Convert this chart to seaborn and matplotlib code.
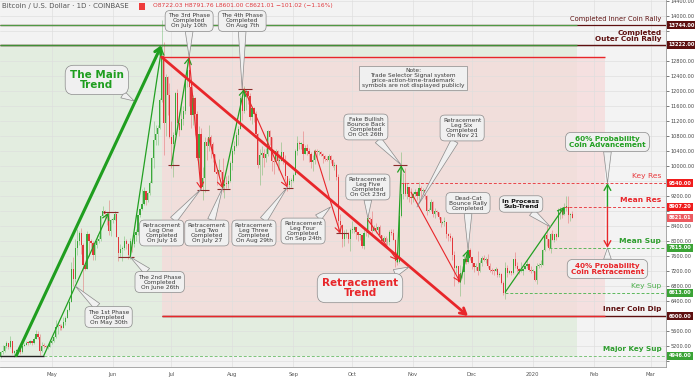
import matplotlib
matplotlib.use("Agg")
import numpy as np
import pandas as pd
import matplotlib.pyplot as plt
import matplotlib.dates as mdates
from matplotlib.patches import Rectangle
import seaborn as sns

# ---- daily candles, Coinbase BTC-USD, 2019-04-05 .. 2020-01-21 ----
start_date = "2019-04-05"
first_open = 4900.0

close_apr = [5040, 5060, 5200, 5280, 5170, 5330, 5020, 5070, 5075, 5160, 5030, 5210, 5240,
             5290, 5280, 5330, 5290, 5390, 5530, 5440, 5070, 5210, 5200, 5180, 5180, 5280]
high_apr = [5060, 5230, 5240, 5340, 5290, 5470, 5340, 5100, 5120, 5180, 5200, 5230, 5280,
            5330, 5340, 5350, 5340, 5430, 5630, 5600, 5520, 5300, 5270, 5240, 5210, 5330]
low_apr = [4880, 4990, 5050, 5150, 5120, 5150, 4980, 4920, 5040, 5040, 4990, 5020, 5190,
           5230, 5230, 5260, 5220, 5260, 5380, 5380, 4960, 5050, 5160, 5140, 5110, 5170]

close_may = [5340, 5430, 5720, 5770, 5730, 5690, 5830, 5960, 6160, 6380, 7260, 6990, 7810, 7990,
             8200, 7890, 7350, 7260, 8190, 7990, 7950, 7630, 7880, 7990, 8050, 8670, 8810, 8720,
             8660, 8270, 8550]
high_may = [5380, 5470, 5890, 5820, 5790, 5800, 5980, 5990, 6180, 6430, 7450, 7560, 8060, 8330,
            8270, 8350, 7940, 7480, 8260, 8200, 8040, 8000, 7980, 8170, 8150, 8700, 8930, 8820,
            8720, 9080, 8580]
low_may = [5260, 5320, 5420, 5520, 5640, 5620, 5680, 5760, 5950, 6140, 6370, 6800, 6900, 7620,
           7880, 7650, 6600, 7230, 7250, 7590, 7800, 7500, 7500, 7810, 7950, 8000, 8640, 8580,
           8430, 8150, 8120]

close_jun = [8560, 8730, 8110, 7680, 7790, 7800, 8000, 7930, 7630, 8000, 7920, 8170, 8230, 8690,
             8850, 8990, 9320, 9080, 9270, 9540, 10200, 10700, 10850, 11010, 11760, 12930, 11150,
             12370, 11880, 10770]
high_jun = [8640, 8810, 8740, 8110, 7920, 7870, 8120, 8050, 7940, 8090, 8040, 8230, 8320, 8690,
            8880, 9380, 9440, 9340, 9310, 9600, 10240, 11200, 11080, 11100, 11800, 13880, 13300,
            12450, 12390, 12200]
low_jun = [8470, 8550, 8100, 7470, 7580, 7460, 7760, 7790, 7520, 7530, 7700, 7850, 8000, 8160,
           8640, 8820, 8970, 8960, 9040, 9230, 9540, 9950, 10550, 10570, 10980, 11710, 10300,
           10810, 11360, 10750]

close_jul = [10590, 10820, 11950, 11150, 10970, 11250, 11470, 12300, 12560, 12100, 11350, 11800,
             11380, 10200, 10850, 9430, 9680, 10630, 10530, 10760, 10590, 10320, 9850, 9780, 9890,
             9840, 9470, 9530, 9510, 9590, 10090]
high_jul = [11200, 10900, 11980, 12050, 11440, 11700, 11600, 12380, 12800, 13200, 12100, 11900,
            11830, 11450, 11070, 11020, 9980, 10760, 10750, 11100, 10830, 10650, 10330, 9920,
            10180, 9900, 10200, 9620, 9720, 9750, 10120]
low_jul = [9950, 9710, 10820, 11030, 10800, 10990, 11100, 11370, 12110, 11600, 11000, 11080,
           10830, 10150, 9900, 9370, 9100, 9300, 10150, 10400, 10200, 10100, 9830, 9500, 9740,
           9660, 9300, 9150, 9400, 9410, 9560]

close_aug = [10400, 10530, 10820, 10980, 11800, 11470, 11980, 11990, 11860, 11300, 11550, 11390,
             10860, 10020, 10300, 10350, 10220, 10320, 10920, 10760, 10130, 10110, 10410, 10140,
             10140, 10360, 10170, 9720, 9490, 9590, 9600]
high_aug = [10480, 10660, 10910, 11070, 11900, 12320, 12130, 12060, 12000, 11930, 11600, 11560,
            11450, 10870, 10450, 10530, 10460, 10480, 10960, 10950, 10780, 10240, 10450, 10420,
            10330, 10650, 10380, 10280, 9730, 9690, 9680]
low_aug = [9880, 10330, 10500, 10560, 10980, 11220, 11410, 11500, 11660, 11220, 11120, 11170,
           10800, 9950, 9500, 9750, 9980, 10100, 10260, 10560, 9860, 9790, 10060, 9880, 9920,
           10130, 10050, 9620, 9330, 9380, 9450]

close_sep = [9770, 10390, 10620, 10580, 10580, 10320, 10480, 10400, 10320, 10100, 10160, 10410,
             10360, 10360, 10310, 10260, 10190, 10160, 10270, 10170, 9990, 10030, 9700, 8530,
             8430, 8060, 8200, 8220, 8050, 8300]
high_sep = [9820, 10440, 10790, 10670, 10630, 10920, 10560, 10590, 10490, 10380, 10290, 10450,
            10440, 10420, 10390, 10350, 10280, 10270, 10330, 10280, 10190, 10100, 10050, 9790,
            8730, 8450, 8280, 8320, 8230, 8340]
low_sep = [9560, 9760, 10290, 10440, 10460, 10170, 10310, 10290, 10110, 9950, 9870, 10040,
           10160, 10280, 10260, 10080, 10140, 10140, 9620, 10080, 9960, 9900, 9630, 8220, 8270,
           7850, 7870, 8080, 7950, 7720]

close_oct = [8300, 8370, 8230, 8150, 8150, 7870, 8220, 8200, 8600, 8590, 8270, 8350, 8300, 8370,
             8160, 8000, 8090, 7960, 7960, 8230, 8220, 8030, 7470, 7440, 8660, 9250, 9550, 9250,
             9430, 9170, 9150]
high_oct = [8520, 8390, 8380, 8240, 8180, 8170, 8320, 8330, 8670, 8650, 8800, 8420, 8480, 8400,
            8420, 8170, 8120, 8120, 8090, 8300, 8330, 8320, 8050, 7500, 8800, 10370, 9800, 9950,
            9540, 9440, 9400]
low_oct = [8200, 8200, 8060, 8000, 8020, 7800, 7790, 8130, 8100, 8480, 8200, 8270, 8200, 8250,
           8100, 7940, 7960, 7840, 7880, 7880, 8160, 8030, 7300, 7360, 7400, 8650, 9130, 9200,
           9110, 9050, 8980]

close_nov = [9250, 9310, 9200, 9400, 9320, 9350, 9210, 8800, 8820, 9050, 8720, 8800, 8760, 8640,
             8470, 8500, 8500, 8180, 8120, 8080, 7620, 7280, 7330, 6900, 7150, 7160, 7520, 7430,
             7750, 7560]
high_nov = [9300, 9380, 9370, 9560, 9470, 9420, 9370, 9220, 8870, 9130, 9070, 8890, 8820, 8780,
            8650, 8530, 8640, 8500, 8200, 8210, 8120, 7720, 7360, 7340, 7370, 7320, 7650, 7620,
            7870, 7820]
low_nov = [9040, 9210, 9090, 9100, 9180, 9260, 9130, 8700, 8770, 8800, 8630, 8620, 8700, 8580,
           8380, 8450, 8400, 8080, 8000, 8000, 7500, 6800, 7150, 6870, 6530, 7020, 6860, 7380,
           7410, 7480]

close_dec = [7410, 7300, 7300, 7200, 7400, 7540, 7500, 7520, 7340, 7230, 7210, 7200, 7260, 7080,
             7110, 6880, 6620, 7290, 7150, 7190, 7140, 7520, 7320, 7250, 7200, 7200, 7250, 7320,
             7390, 7220, 7190]
high_dec = [7560, 7420, 7400, 7740, 7490, 7600, 7630, 7560, 7650, 7400, 7270, 7260, 7310, 7270,
            7170, 7140, 6940, 7440, 7370, 7220, 7190, 7530, 7700, 7430, 7270, 7440, 7270, 7360,
            7520, 7410, 7320]
low_dec = [7240, 7160, 7230, 7080, 7170, 7330, 7470, 7420, 7280, 7170, 7130, 7080, 7190, 7030,
           7030, 6860, 6550, 6440, 7040, 7110, 7080, 7130, 7270, 7170, 7130, 7160, 7080, 7240,
           7290, 7200, 7150]

close_jan = [7200, 6960, 7340, 7350, 7350, 7760, 8160, 8040, 7820, 8190, 8020, 8180, 8110, 8810,
             8820, 8720, 8900, 8900, 8700, 8722.03, 8621.01]
high_jan = [7250, 7210, 7400, 7400, 7500, 7790, 8210, 8460, 8050, 8200, 8290, 8190, 8200, 8880,
            8900, 8850, 9010, 9200, 9190, 8750, 8791.76]
low_jan = [7160, 6930, 6860, 7270, 7310, 7350, 7730, 7870, 7760, 7670, 8020, 7970, 8030, 8100,
           8580, 8620, 8680, 8800, 8480, 8520, 8601.00]

# ---- key levels ----
inner_rally = 13744.00
outer_rally = 13222.00
retrace_top = 12900.00
key_res = 9540.00
mean_res = 8907.20
mean_sup = 7815.00
key_sup = 6613.00
inner_dip = 6000.00
major_key_sup = 4946.00

# ---- trend legs (date, price) ----
main_trend = [("2019-04-13", major_key_sup), ("2019-06-26", outer_rally)]
phase_one = [("2019-04-27", major_key_sup), ("2019-05-30", 8750)]
phase_two = [("2019-06-10", 7570), ("2019-06-26", 13150)]
phase_three = [("2019-07-01", 10020), ("2019-07-10", 12900)]
leg_one = [("2019-07-10", 12900), ("2019-07-16", 9380)]
leg_two = [("2019-07-20", 10740), ("2019-07-27", 9410)]
phase_four = [("2019-07-27", 9410), ("2019-08-07", 12050)]
leg_three = [("2019-08-07", 12050), ("2019-08-29", 9430)]
leg_four = [("2019-09-12", 10400), ("2019-09-25", 8200)]
leg_five = [("2019-10-09", 8560), ("2019-10-24", 7480)]
fake_bounce = [("2019-10-24", 7440), ("2019-10-26", 10020)]
leg_six = [("2019-10-31", 9300), ("2019-11-25", 6900)]
dead_cat = [("2019-11-25", 6900), ("2019-11-29", 7760)]
sub_trend = [("2019-12-18", 6640), ("2020-01-17", mean_res)]
retrace_trend = [("2019-06-26", retrace_top), ("2019-11-29", inner_dip)]
forecast_date = "2020-02-08"

month_ticks = ["2019-05-01", "2019-06-01", "2019-07-01", "2019-08-01", "2019-09-01",
               "2019-10-01", "2019-11-01", "2019-12-01", "2020-01-01", "2020-02-01", "2020-03-01"]
month_labels = ["May", "Jun", "Jul", "Aug", "Sep", "Oct", "Nov", "Dec", "2020", "Feb", "Mar"]
price_ticks = list(range(4800, 14401, 400))

GREEN = "#2f9e2f"
RED = "#e8262a"
MAROON = "#5e1010"
BOX_FC = "#f0f0f0"
BOX_EC = "#8a8a8a"


def d(s):
    return mdates.date2num(pd.Timestamp(s))


def build_frame():
    closes = close_apr + close_may + close_jun + close_jul + close_aug + close_sep + close_oct + close_nov + close_dec + close_jan
    highs = high_apr + high_may + high_jun + high_jul + high_aug + high_sep + high_oct + high_nov + high_dec + high_jan
    lows = low_apr + low_may + low_jun + low_jul + low_aug + low_sep + low_oct + low_nov + low_dec + low_jan
    df = pd.DataFrame({"date": pd.date_range(start_date, periods=len(closes), freq="D"),
                       "close": closes, "high": highs, "low": lows})
    df["open"] = [first_open] + closes[:-1]
    df["high"] = df[["high", "open", "close"]].max(axis=1)
    df["low"] = df[["low", "open", "close"]].min(axis=1)
    return df


def draw_candles(ax, df):
    x = mdates.date2num(df["date"])
    up = df["close"] >= df["open"]
    colors = np.where(up, "#3aa83a", "#e2363b")
    ax.vlines(x, df["low"], df["high"], colors=colors, lw=0.6, alpha=0.4, zorder=2)
    bottom = np.minimum(df["open"], df["close"])
    height = np.maximum((df["close"] - df["open"]).abs(), 25)
    ax.bar(x, height, bottom=bottom, width=0.62, color=colors, lw=0, zorder=3)


def arrow(ax, leg, color, lw=0.9, head=True):
    (d0, p0), (d1, p1) = leg
    style = "->,head_length=0.35,head_width=0.2" if head else "-"
    ax.annotate("", xy=(d(d1), p1), xytext=(d(d0), p0),
                arrowprops=dict(arrowstyle=style, color=color, lw=lw, shrinkA=0, shrinkB=0),
                zorder=5)


def callout(ax, text, at, point, color="#3a3a3a", weight="normal", size=4.2, pad=0.5):
    ax.annotate(text, xy=(d(point[0]), point[1]), xytext=(d(at[0]), at[1]),
                ha="center", va="center", fontsize=size, color=color, fontweight=weight,
                linespacing=1.0, zorder=8,
                bbox=dict(boxstyle=f"round,pad={pad},rounding_size=0.8", fc=BOX_FC, ec=BOX_EC, lw=0.5),
                arrowprops=dict(arrowstyle="wedge,tail_width=0.55,shrink_factor=0.5", mutation_scale=10,
                                fc=BOX_FC, ec=BOX_EC, lw=0.5, shrinkA=0, shrinkB=0))


def hline(ax, price, d0, d1, color, lw=1.0, ls="-"):
    ax.plot([d0, d1], [price, price], color=color, lw=lw, ls=ls, zorder=4, solid_capstyle="butt")


def main():
    sns.set_theme(style="whitegrid")
    plt.rcParams["font.family"] = ["DejaVu Sans"]
    df = build_frame()
    last = df.iloc[-1]

    fig = plt.figure(figsize=(6.95, 3.8), dpi=100, facecolor="white")
    ax = fig.add_axes([0, 13 / 380, 666 / 695, 367 / 380])
    ax.set_facecolor("#f3f3f3")

    x0 = d(start_date) - 0.3
    x1 = x0 + 666 / 1.964
    ax.set_xlim(x0, x1)
    ax.set_ylim(4641, 14421)

    green_end = d("2020-01-23") + 0.6
    red_start, red_end = d("2019-06-26"), d("2020-02-06") + 0.5
    ax.add_patch(Rectangle((x0, major_key_sup), green_end - x0, outer_rally - major_key_sup,
                           fc="#e3ede0", ec="none", zorder=0.2))
    ax.add_patch(Rectangle((red_start, inner_dip), red_end - red_start, retrace_top - inner_dip,
                           fc="#f6dada", alpha=0.75, ec="none", zorder=0.3))

    # price tags on the axis hide the tick labels they sit on
    tags = [(inner_rally, MAROON), (outer_rally, MAROON), (key_res, "#f01c1c"),
            (mean_res, "#f01c1c"), (last["close"], "#ec5a60"), (mean_sup, "#3aa335"),
            (key_sup, "#3aa335"), (inner_dip, MAROON), (major_key_sup, "#3aa335")]
    tag_prices = [p for p, _ in tags]
    tick_text = ["" if min(abs(p - t) for t in tag_prices) < 170 else f"{p:.2f}" for p in price_ticks]

    ax.set_yticks(price_ticks)
    ax.set_yticklabels(tick_text)
    ax.set_xticks([d(m) for m in month_ticks])
    ax.set_xticklabels(month_labels)
    ax.yaxis.tick_right()
    ax.tick_params(axis="y", labelsize=3.6, colors="#444444", length=2, pad=1.5, width=0.5)
    ax.tick_params(axis="x", labelsize=3.8, colors="#555555", length=2, pad=1.5, width=0.5)
    ax.grid(True, color="#dedede", lw=0.45)
    ax.set_axisbelow(True)
    for side in ["top", "left"]:
        ax.spines[side].set_visible(False)
    for side in ["right", "bottom"]:
        ax.spines[side].set_color("#9a9a9a")
        ax.spines[side].set_linewidth(0.6)

    # horizontal levels
    hline(ax, inner_rally, x0, x1, MAROON, 0.9)
    hline(ax, inner_rally, x0, green_end, "#4f9a45", 0.9)
    hline(ax, outer_rally, x0, x1, MAROON, 1.0)
    hline(ax, outer_rally, x0, green_end, "#3f8f35", 1.0)
    hline(ax, retrace_top, red_start, red_end, RED, 1.0)
    hline(ax, inner_dip, red_start, x1, MAROON, 1.0)
    hline(ax, inner_dip, red_start, red_end, RED, 1.0)
    hline(ax, key_res, d("2019-10-26"), x1, "#e8454a", 0.7, (0, (3, 2)))
    hline(ax, mean_res, d("2020-01-17"), x1, "#e8454a", 0.7, (0, (3, 2)))
    hline(ax, mean_sup, d("2020-01-09"), x1, "#5cb85c", 0.7, (0, (3, 2)))
    hline(ax, key_sup, d("2019-12-18"), x1, "#5cb85c", 0.7, (0, (3, 2)))
    hline(ax, major_key_sup, d("2019-04-27"), x1, "#7cc37a", 0.7, (0, (3, 2)))
    hline(ax, major_key_sup, x0, d("2019-04-27"), "#222222", 1.0)

    # small horizontal marks at swing points
    marks = [(8760, "2019-05-27", "2019-06-04"), (7570, "2019-06-04", "2019-06-12"),
             (10020, "2019-06-29", "2019-07-05"), (9350, "2019-07-14", "2019-07-20"),
             (9380, "2019-07-24", "2019-07-31"), (12050, "2019-08-04", "2019-08-11"),
             (9400, "2019-08-27", "2019-09-01"), (8210, "2019-09-23", "2019-09-29"),
             (10020, "2019-10-22", "2019-10-29")]
    for price, a, b in marks:
        hline(ax, price, d(a), d(b), "#8c2a2a", 0.8)

    draw_candles(ax, df)

    # trend legs
    arrow(ax, main_trend, "#1f9e1f", 2.2)
    for leg in [phase_one, phase_two, phase_three, phase_four, fake_bounce, dead_cat, sub_trend]:
        arrow(ax, leg, "#22a022", 0.9)
    for leg in [leg_one, leg_two, leg_three, leg_four, leg_five, leg_six]:
        arrow(ax, leg, RED, 0.8)
    arrow(ax, retrace_trend, RED, 2.0)
    arrow(ax, [(forecast_date, mean_res), (forecast_date, key_res)], "#22a022", 1.0)
    arrow(ax, [(forecast_date, mean_res), (forecast_date, mean_sup)], RED, 1.0)

    # callouts
    callout(ax, "The Main\nTrend", ("2019-05-24", 12290), ("2019-06-12", 11730), color="#1f9e1f",
            weight="bold", size=7.5, pad=0.45)
    callout(ax, "The 3rd Phase\nCompleted\nOn July 10th", ("2019-07-10", 13862), ("2019-07-10", 12900))
    callout(ax, "The 4th Phase\nCompleted\nOn Aug 7th", ("2019-08-06", 13862), ("2019-08-06", 12049))
    callout(ax, "Fake Bullish\nBounce Back\nCompleted\nOn Oct 26th", ("2019-10-08", 11037), ("2019-10-26", 10024))
    callout(ax, "Retracement\nLeg Six\nCompleted\nOn Nov 21", ("2019-11-26", 11010), ("2019-11-03", 8905))
    callout(ax, "Retracement\nLeg Five\nCompleted\nOn Oct 23rd", ("2019-10-09", 9438), ("2019-10-09", 8612))
    callout(ax, "Retracement\nLeg Four\nCompleted\nOn Sep 24th", ("2019-09-06", 8265), ("2019-09-20", 8905))
    callout(ax, "Dead-Cat\nBounce Rally\nCompleted", ("2019-11-29", 9011), ("2019-11-29", 7759))
    callout(ax, "In Process\nSub-Trend", ("2019-12-26", 8985), ("2020-01-10", 8372), color="#111111",
            weight="bold", size=4.6)
    callout(ax, "60% Probability\nCoin Advancement", (forecast_date, 10637), (forecast_date, key_res),
            color="#22a022", weight="bold", size=5.2)
    callout(ax, "40% Probability\nCoin Retracement", (forecast_date, 7252), (forecast_date, mean_sup),
            color=RED, weight="bold", size=5.2)
    callout(ax, "Retracement\nTrend", ("2019-10-05", 6746), ("2019-10-30", 7306), color=RED,
            weight="bold", size=7.5, pad=0.45)
    callout(ax, "Retracement\nLeg One\nCompleted\nOn July 16", ("2019-06-26", 8212), ("2019-07-16", 9380))
    callout(ax, "Retracement\nLeg Two\nCompleted\nOn July 27", ("2019-07-19", 8212), ("2019-07-27", 9410))
    callout(ax, "Retracement\nLeg Three\nCompleted\nOn Aug 29th", ("2019-08-12", 8212), ("2019-08-29", 9430))
    callout(ax, "The 2nd Phase\nCompleted\nOn June 26th", ("2019-06-25", 6906), ("2019-06-10", 7572))
    callout(ax, "The 1st Phase\nCompleted\nOn May 30th", ("2019-05-30", 5973), ("2019-05-13", 6799))
    ax.text(d("2019-11-01"), 12343,
            "Note:\nTrade Selector Signal system\nprice-action-time-trademark\nsymbols are not displayed publicly",
            ha="center", va="center", fontsize=4.2, color="#3a3a3a", linespacing=1.0, zorder=8,
            bbox=dict(boxstyle="square,pad=0.4", fc=BOX_FC, ec=BOX_EC, lw=0.5))

    # level names on the right
    yt = ax.get_yaxis_transform()
    names = [("Completed Inner Coin Rally", 13915, MAROON, "normal", 4.8),
             ("Completed\nOuter Coin Rally", 13462, MAROON, "bold", 5.2),
             ("Key Res", 9731, "#e8393d", "normal", 5.4),
             ("Mean Res", 9091, RED, "bold", 5.4),
             ("Mean Sup", 8000, "#2f9e2f", "bold", 5.4),
             ("Key Sup", 6799, "#4caf4c", "normal", 5.4),
             ("Inner Coin Dip", 6186, MAROON, "bold", 5.2),
             ("Major Key Sup", 5120, "#2f9e2f", "bold", 5.2)]
    for text, price, color, weight, size in names:
        ax.text(0.993, price, text, transform=yt, ha="right", va="center", fontsize=size,
                color=color, fontweight=weight, linespacing=0.95, zorder=9)

    for price, color in tags:
        ax.text(1.004, price, f"{price:.2f}", transform=yt, ha="left", va="center", fontsize=3.6,
                color="white", fontweight="bold", clip_on=False, zorder=10,
                bbox=dict(boxstyle="square,pad=0.3", fc=color, ec="none"))

    # header
    ax.text(0.003, 0.985, "Bitcoin / U.S. Dollar · 1D · COINBASE", transform=ax.transAxes,
            ha="left", va="center", fontsize=5, color="#555555", zorder=9)
    ax.add_patch(Rectangle((0.209, 0.974), 0.009, 0.019, transform=ax.transAxes,
                           fc="#ef3b3b", ec="none", zorder=9))
    change = last["close"] - last["open"]
    ohlc = (f"O{last['open']:.2f} H{last['high']:.2f} L{last['low']:.2f} C{last['close']:.2f} "
            f"\u2212{abs(change):.2f} (\u2212{abs(change) / last['open'] * 100:.2f}%)")
    ax.text(0.2297, 0.985, ohlc, transform=ax.transAxes, ha="left", va="center",
            fontsize=4.3, color="#e0393e", zorder=9)

    fig.savefig("out.png", dpi=100, facecolor="white")


if __name__ == "__main__":
    main()
